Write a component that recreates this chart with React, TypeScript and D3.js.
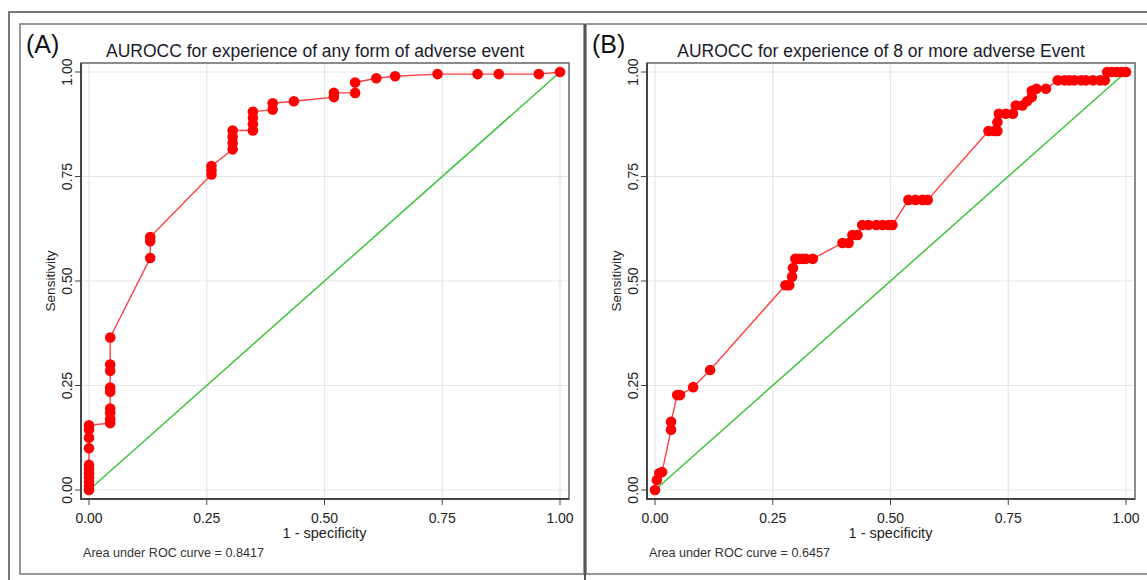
import React, { useEffect, useRef } from "react"
import * as d3 from "d3"

// panel A: any adverse event
const fprA = [0, 0, 0, 0, 0, 0, 0, 0, 0, 0, 0,
    0.045, 0.045, 0.045, 0.045, 0.045, 0.045, 0.045, 0.045, 0.045,
    0.13, 0.13, 0.13,
    0.26, 0.26, 0.26,
    0.305, 0.305, 0.305, 0.305,
    0.348, 0.348, 0.348, 0.348,
    0.39, 0.39, 0.435, 0.52, 0.52, 0.565, 0.565,
    0.61, 0.65, 0.74, 0.825, 0.87, 0.955, 1]
const tprA = [0, 0.01, 0.02, 0.03, 0.04, 0.05, 0.06, 0.1, 0.125, 0.145, 0.155,
    0.16, 0.17, 0.185, 0.195, 0.235, 0.245, 0.285, 0.3, 0.365,
    0.555, 0.595, 0.605,
    0.755, 0.765, 0.775,
    0.815, 0.83, 0.845, 0.86,
    0.86, 0.875, 0.89, 0.905,
    0.91, 0.925, 0.93, 0.94, 0.95, 0.95, 0.975,
    0.985, 0.99, 0.995, 0.995, 0.995, 0.995, 1]

// panel B: 8 or more adverse events
const fprB = [0, 0.004, 0.009, 0.015, 0.034, 0.034, 0.047, 0.053, 0.081, 0.117,
    0.277, 0.285, 0.291, 0.293, 0.298, 0.306, 0.313, 0.32, 0.335,
    0.398, 0.411, 0.419, 0.43, 0.44, 0.453, 0.47, 0.483, 0.496, 0.504,
    0.538, 0.553, 0.568, 0.579,
    0.708, 0.72, 0.727, 0.727, 0.73, 0.745, 0.76, 0.766, 0.78, 0.79, 0.8, 0.8, 0.81, 0.83,
    0.855, 0.87, 0.88, 0.89, 0.905, 0.915, 0.93, 0.945, 0.955,
    0.96, 0.97, 0.98, 0.99, 1]
const tprB = [0, 0.024, 0.04, 0.043, 0.144, 0.163, 0.227, 0.227, 0.246, 0.287,
    0.49, 0.49, 0.51, 0.531, 0.553, 0.553, 0.553, 0.553, 0.553,
    0.591, 0.591, 0.61, 0.61, 0.634, 0.634, 0.634, 0.634, 0.634, 0.634,
    0.694, 0.694, 0.694, 0.694,
    0.859, 0.859, 0.859, 0.88, 0.9, 0.9, 0.9, 0.92, 0.92, 0.93, 0.94, 0.955, 0.96, 0.96,
    0.98, 0.98, 0.98, 0.98, 0.98, 0.98, 0.98, 0.98, 0.98,
    1, 1, 1, 1, 1]

const ticks = [0, 0.25, 0.5, 0.75, 1]
const titles = [
    "AUROCC for experience of any form of adverse event",
    "AUROCC for experience of 8 or more adverse Event"
]
const panelLabels = ["(A)", "(B)"]
const aucLabels = ["Area under ROC curve = 0.8417", "Area under ROC curve = 0.6457"]

const font = "'Liberation Sans', Arial, sans-serif"

function drawPanel(svg, left, fpr, tpr, title, label, auc) {
    const x = d3.scaleLinear().domain([0, 1]).range([left + 89, left + 560])
    const y = d3.scaleLinear().domain([0, 1]).range([490, 72])
    const g = svg.append("g")

    // grid
    g.selectAll(".gx")
        .data(ticks)
        .enter()
        .append("line")
        .attr("x1", d => x(d))
        .attr("x2", d => x(d))
        .attr("y1", 64)
        .attr("y2", 498)
        .attr("stroke", "#e6e6e6")
        .attr("stroke-width", 1.2)
    g.selectAll(".gy")
        .data(ticks)
        .enter()
        .append("line")
        .attr("x1", left + 82)
        .attr("x2", left + 568)
        .attr("y1", d => y(d))
        .attr("y2", d => y(d))
        .attr("stroke", "#e6e6e6")
        .attr("stroke-width", 1.2)

    // plot region box
    g.append("rect")
        .attr("x", left + 81)
        .attr("y", 63)
        .attr("width", 488)
        .attr("height", 436)
        .attr("fill", "none")
        .attr("stroke", "#666")
        .attr("stroke-width", 1.5)
    g.append("path")
        .attr("d", `M${left + 81},63V499H${left + 569}`)
        .attr("fill", "none")
        .attr("stroke", "#444")
        .attr("stroke-width", 2)

    // ticks
    g.selectAll(".tx")
        .data(ticks)
        .enter()
        .append("line")
        .attr("x1", d => x(d))
        .attr("x2", d => x(d))
        .attr("y1", 499)
        .attr("y2", 505)
        .attr("stroke", "#444")
    g.selectAll(".ty")
        .data(ticks)
        .enter()
        .append("line")
        .attr("x1", left + 75)
        .attr("x2", left + 81)
        .attr("y1", d => y(d))
        .attr("y2", d => y(d))
        .attr("stroke", "#444")
    g.selectAll(".lx")
        .data(ticks)
        .enter()
        .append("text")
        .attr("x", d => x(d))
        .attr("y", 523)
        .attr("text-anchor", "middle")
        .attr("font-size", 14)
        .attr("font-family", font)
        .attr("fill", "#222")
        .text(d => d3.format(".2f")(d))
    g.selectAll(".ly")
        .data(ticks)
        .enter()
        .append("text")
        .attr("transform", d => `translate(${left + 72},${y(d)}) rotate(-90)`)
        .attr("text-anchor", "middle")
        .attr("font-size", 14)
        .attr("font-family", font)
        .attr("fill", "#222")
        .text(d => d3.format(".2f")(d))

    // axis titles
    g.append("text")
        .attr("x", x(0.5))
        .attr("y", 538)
        .attr("text-anchor", "middle")
        .attr("font-size", 14.5)
        .attr("font-family", font)
        .attr("fill", "#222")
        .text("1 - specificity")
    g.append("text")
        .attr("transform", `translate(${left + 55},${y(0.5)}) rotate(-90)`)
        .attr("text-anchor", "middle")
        .attr("font-size", 13.5)
        .attr("font-family", font)
        .attr("fill", "#222")
        .text("Sensitivity")
    g.append("text")
        .attr("x", left + 83)
        .attr("y", 557)
        .attr("font-size", 12.6)
        .attr("font-family", font)
        .attr("fill", "#333")
        .text(auc)
    g.append("text")
        .attr("x", x(0.48))
        .attr("y", 57)
        .attr("text-anchor", "middle")
        .attr("font-size", 17.5)
        .attr("font-family", font)
        .attr("fill", "#1a1a2a")
        .text(title)
    g.append("text")
        .attr("x", left + 26)
        .attr("y", 53)
        .attr("font-size", 25)
        .attr("font-family", font)
        .attr("fill", "#111")
        .text(label)

    // reference line
    g.append("line")
        .attr("x1", x(0))
        .attr("y1", y(0))
        .attr("x2", x(1))
        .attr("y2", y(1))
        .attr("stroke", "#3cc43c")
        .attr("stroke-width", 1.5)

    const pts = fpr.map((f, i) => [f, tpr[i]])
    const line = d3.line().x(d => x(d[0])).y(d => y(d[1]))
    g.append("path")
        .attr("d", line(pts))
        .attr("fill", "none")
        .attr("stroke", "#ff4040")
        .attr("stroke-width", 1.4)
    g.selectAll(".pt")
        .data(pts)
        .enter()
        .append("circle")
        .attr("cx", d => x(d[0]))
        .attr("cy", d => y(d[1]))
        .attr("r", 5.3)
        .attr("fill", "#ff0000")
}

export default function App() {
    const ref = useRef(null)

    useEffect(() => {
        document.body.style.margin = "0"
        const svg = d3.select(ref.current)
        svg.selectAll("*").remove()
        svg.append("rect").attr("width", 1147).attr("height", 580).attr("fill", "#fff")

        // outer frame and panel frames
        svg.append("path")
            .attr("d", "M9,580V12H1147")
            .attr("fill", "none")
            .attr("stroke", "#777")
            .attr("stroke-width", 2)
        svg.append("rect")
            .attr("x", 20)
            .attr("y", 24)
            .attr("width", 564)
            .attr("height", 550)
            .attr("fill", "none")
            .attr("stroke", "#777")
            .attr("stroke-width", 1.5)
        svg.append("path")
            .attr("d", "M1150,24H586V574H1150")
            .attr("fill", "none")
            .attr("stroke", "#777")
            .attr("stroke-width", 1.5)
        svg.append("line")
            .attr("x1", 585)
            .attr("x2", 585)
            .attr("y1", 24)
            .attr("y2", 580)
            .attr("stroke", "#555")
            .attr("stroke-width", 2)

        drawPanel(svg, 0, fprA, tprA, titles[0], panelLabels[0], aucLabels[0])
        drawPanel(svg, 566, fprB, tprB, titles[1], panelLabels[1], aucLabels[1])
    }, [])

    return <svg ref={ref} width={1147} height={580} style={{ display: "block" }} />
}
